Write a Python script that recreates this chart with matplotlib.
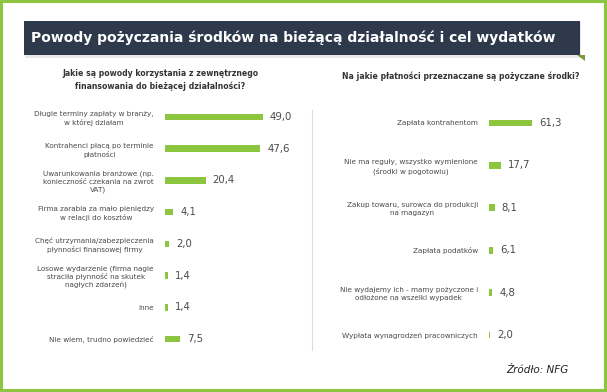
import matplotlib
matplotlib.use("Agg")
import matplotlib.pyplot as plt
from matplotlib.patches import Rectangle, Polygon

W, H = 607, 392

TITLE = "Powody pożyczania środków na bieżącą działalność i cel wydatków"

left_question = "Jakie są powody korzystania z zewnętrznego\nfinansowania do bieżącej działalności?"
left_labels = [
    "Długie terminy zapłaty w branży,\nw której działam",
    "Kontrahenci płacą po terminie\npłatności",
    "Uwarunkowania branżowe (np.\nkonieczność czekania na zwrot\nVAT)",
    "Firma zarabia za mało pieniędzy\nw relacji do kosztów",
    "Chęć utrzymania/zabezpieczenia\npłynności finansowej firmy",
    "Losowe wydarzenie (firma nagle\nstraciła płynność na skutek\nnagłych zdarzeń)",
    "Inne",
    "Nie wiem, trudno powiedzieć",
]
left_values = [49.0, 47.6, 20.4, 4.1, 2.0, 1.4, 1.4, 7.5]

right_question = "Na jakie płatności przeznaczane są pożyczane środki?"
right_labels = [
    "Zapłata kontrahentom",
    "Nie ma reguły, wszystko wymienione\n(środki w pogotowiu)",
    "Zakup towaru, surowca do produkcji\nna magazyn",
    "Zapłata podatków",
    "Nie wydajemy ich - mamy pożyczone i\nodłożone na wszelki wypadek",
    "Wypłata wynagrodzeń pracowniczych",
]
right_values = [61.3, 17.7, 8.1, 6.1, 4.8, 2.0]

GREEN = "#8cc63f"
NAVY = "#2e3a4c"
TEXT = "#4a4a4a"

fig = plt.figure(figsize=(W / 100, H / 100), dpi=100)
fig.patch.set_facecolor("white")


def px_axes(x0, y0, x1, y1, **kw):
    # axes placed in pixel coords measured from the top-left corner
    return fig.add_axes([x0 / W, 1 - y1 / H, (x1 - x0) / W, (y1 - y0) / H], **kw)


# background layer for frame, title bar, separators
bg = px_axes(0, 0, W, H)
bg.set_xlim(0, W)
bg.set_ylim(H, 0)
bg.axis("off")
bg.add_patch(Rectangle((1, 1), W - 3, H - 3, fill=False, ec="#8dc540", lw=2.2))
bg.add_patch(Rectangle((25, 22), 556, 35.5, fc="#d4d4d4", ec="none", alpha=0.5))
bg.add_patch(Polygon([(577, 55), (585, 55), (585, 61)], closed=True, fc="#7a9a3a", ec="none"))
bg.add_patch(Rectangle((24, 21), 556, 34, fc=NAVY, ec="none"))
bg.text(31, 38, TITLE, color="white", fontsize=10, fontweight="bold",
        va="center", ha="left")
bg.plot([312, 312], [110, 350], color="#dcdcdc", lw=0.8)
bg.text(160, 80, left_question, fontsize=5.6, fontweight="bold", color="#333333",
        ha="center", va="center", multialignment="center", linespacing=1.45)
bg.text(461, 76, right_question, fontsize=5.6, fontweight="bold", color="#333333",
        ha="center", va="center")
bg.text(568, 370, "Źródło: NFG", fontsize=7.5, style="italic", color="#222222",
        ha="right", va="center")


def bar_panel(ax, labels, values, bar_h, xmax):
    y = list(range(len(values)))
    ax.barh(y, values, height=bar_h, color=GREEN, edgecolor="none")
    ax.set_xlim(0, xmax)
    ax.set_ylim(len(values) - 0.5, -0.5)
    ax.set_yticks(y)
    ax.set_yticklabels(labels, fontsize=5.2, color=TEXT, linespacing=1.3)
    for lab in ax.get_yticklabels():
        lab.set_multialignment("center")
    ax.tick_params(axis="y", length=0, pad=8)
    ax.set_xticks([])
    for s in ax.spines.values():
        s.set_visible(False)
    ax.patch.set_alpha(0)
    for yi, v in zip(y, values):
        ax.annotate(f"{v:.1f}".replace(".", ","), (v, yi), xytext=(5, 0),
                    textcoords="offset points", va="center", ha="left",
                    fontsize=7.3, color=TEXT)


# left: 2 px per percent, starts at x=165
axl = px_axes(165, 101.2, 165 + 120, 354.8)
bar_panel(axl, left_labels, left_values, 0.21, 60)

# right: 0.7 px per percent, starts at x=489
axr = px_axes(489, 101.8, 489 + 56, 356.2)
bar_panel(axr, right_labels, right_values, 0.16, 80)

fig.savefig("out.png", dpi=100)
